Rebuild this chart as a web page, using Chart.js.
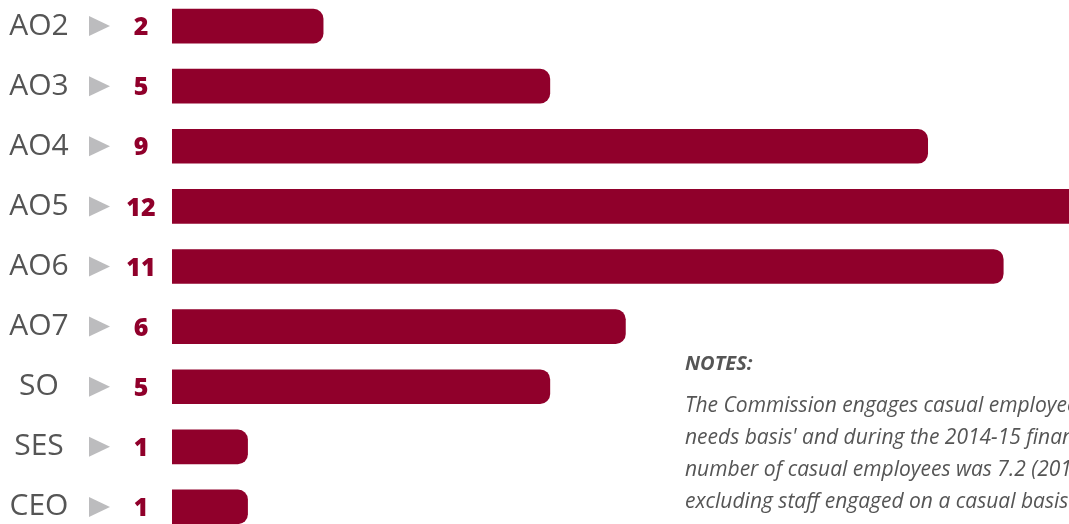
<!DOCTYPE html>
<html>
<head>
<meta charset="utf-8">
<script src="https://cdn.jsdelivr.net/npm/chart.js@4/dist/chart.umd.min.js"></script>
<style>
  html, body { margin: 0; padding: 0; background: #fff; }
  body { width: 1069px; height: 524px; overflow: hidden; position: relative; }
  #wrap { position: absolute; left: 0; top: -4px; width: 1069px; height: 541px; }
  #notes {
    position: absolute; left: 685px; top: 347px; width: 384px;
    overflow: hidden; white-space: nowrap;
    font-family: "Open Sans", sans-serif; font-style: italic; font-size: 21px;
    line-height: 32px; color: #555;
  }
  #notes .head { font-weight: 700; font-size: 20px; margin-bottom: 9px; }
</style>
</head>
<body>
<div id="wrap"><canvas id="staffChart"></canvas></div>
<div id="notes">
  <div class="head">NOTES:</div>
  <div>The Commission engages casual employees</div>
  <div>needs basis' and during the 2014-15 financial</div>
  <div>number of casual employees was 7.2 (2013</div>
  <div>excluding staff engaged on a casual basis</div>
</div>
<script>
// 직급별 인원 (표시된 숫자)
const levels = ['AO2', 'AO3', 'AO4', 'AO5', 'AO6', 'AO7', 'SO', 'SES', 'CEO'];
const counts = [2, 5, 9, 12, 11, 6, 5, 1, 1];
// 막대 길이 (그림에서 읽은 값, AO4 막대는 10 칸 길이로 그려져 있음)
const barLengths = [2, 5, 10, 12, 11, 6, 5, 1, 1];

const barColor = '#90002b';

// 왼쪽 라벨 + 화살표 + 숫자
const rowLabels = {
  id: 'rowLabels',
  afterDatasetsDraw(chart) {
    const ctx = chart.ctx;
    const meta = chart.getDatasetMeta(0);
    ctx.save();
    meta.data.forEach((bar, i) => {
      const y = bar.y;

      ctx.fillStyle = '#555';
      ctx.font = '30px "Open Sans", sans-serif';
      ctx.textAlign = 'center';
      ctx.textBaseline = 'middle';
      ctx.fillText(levels[i], 39, y);

      ctx.fillStyle = '#bcbcbe';
      ctx.beginPath();
      ctx.moveTo(89, y - 10);
      ctx.lineTo(110, y);
      ctx.lineTo(89, y + 10);
      ctx.closePath();
      ctx.fill();

      ctx.fillStyle = barColor;
      ctx.font = '800 25px "Open Sans", sans-serif';
      ctx.fillText(String(counts[i]), 141, y + 2);
    });
    ctx.restore();
  }
};

new Chart(document.getElementById('staffChart'), {
  type: 'bar',
  data: {
    labels: levels,
    datasets: [{
      data: barLengths,
      backgroundColor: barColor,
      borderRadius: 10,
      borderSkipped: 'start',
      barThickness: 34
    }]
  },
  options: {
    indexAxis: 'y',
    responsive: true,
    maintainAspectRatio: false,
    animation: false,
    layout: { padding: { left: 172, right: 0, top: 0, bottom: 0 } },
    plugins: { legend: { display: false }, tooltip: { enabled: false } },
    scales: {
      x: { display: false, min: 0, max: 11.87 },
      y: { display: false }
    }
  },
  plugins: [rowLabels]
});
</script>
</body>
</html>
